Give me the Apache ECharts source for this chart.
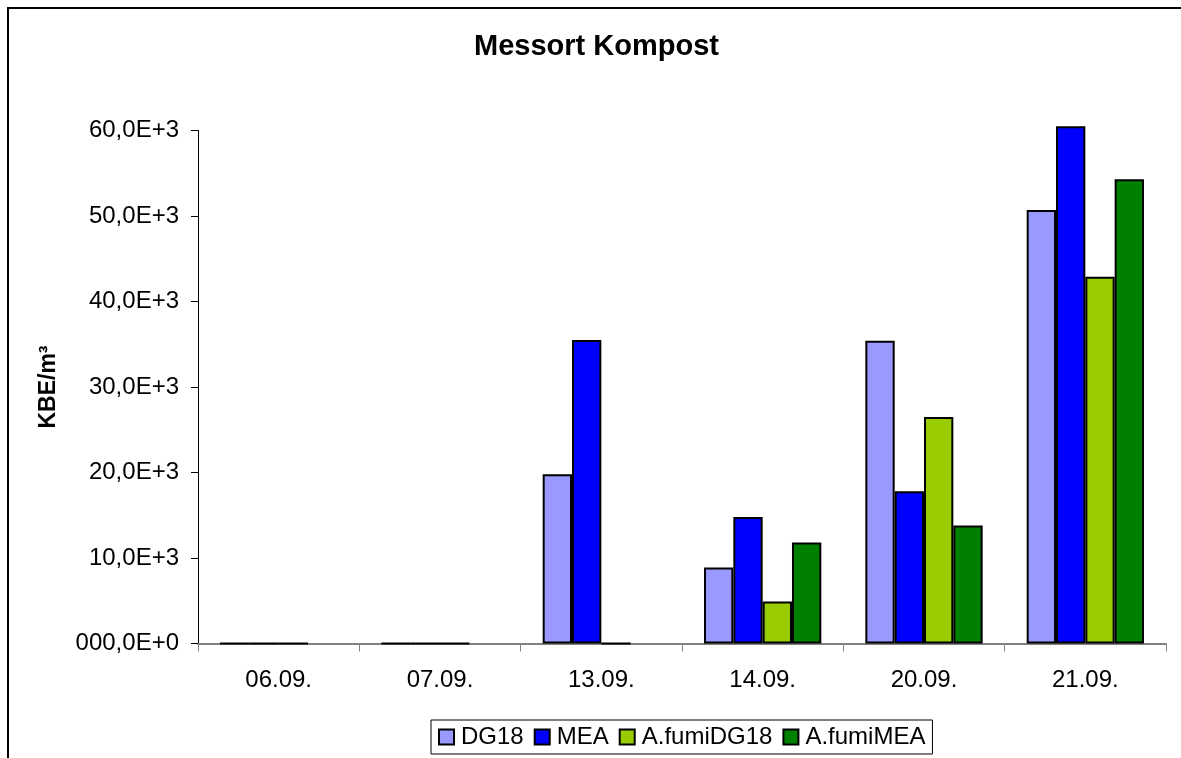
<!DOCTYPE html>
<html>
<head>
<meta charset="utf-8">
<script src="https://cdn.jsdelivr.net/npm/echarts@6/dist/echarts.min.js"></script>
<style>html,body{margin:0;padding:0;background:#fff;}#c{width:1181px;height:758px;}</style>
</head>
<body>
<div id="c"></div>
<script>
const categories = ['06.09.', '07.09.', '13.09.', '14.09.', '20.09.', '21.09.'];
const seriesNames = ['DG18', 'MEA', 'A.fumiDG18', 'A.fumiMEA'];
const dg18 = [0, 0, 19800, 8900, 35400, 50700];
const mea = [0, 0, 35500, 14800, 17800, 60500];
const afumiDG18 = [0, 0, 0, 4900, 26500, 42900];
const afumiMEA = [null, null, null, 11800, 13800, 54300];
const colors = ['#9999FF', '#0000FF', '#99CC00', '#008000'];
const yTicks = { min: 0, max: 60000, interval: 10000 };

const font = 'Liberation Sans, Arial, sans-serif';
const chart = echarts.init(document.getElementById('c'), null, { renderer: 'canvas' });
const seriesData = [dg18, mea, afumiDG18, afumiMEA];

chart.setOption({
  animation: false,
  backgroundColor: '#ffffff',
  title: {
    text: 'Messort Kompost',
    left: 474, top: 32, padding: 0,
    textStyle: { fontFamily: font, fontSize: 29, fontWeight: 'bold', color: '#000' }
  },
  graphic: [
    { type: 'line', silent: true, z: 100,
      shape: { x1: 8, y1: 8, x2: 1181, y2: 8 },
      style: { stroke: '#000', lineWidth: 2 } },
    { type: 'line', silent: true, z: 100,
      shape: { x1: 8, y1: 7, x2: 8, y2: 758 },
      style: { stroke: '#000', lineWidth: 2 } }
  ],
  legend: {
    data: seriesNames,
    left: 431, top: 720,
    padding: [5, 7, 5, 7],
    itemWidth: 15, itemHeight: 15, itemGap: 10,
    icon: 'rect',
    borderColor: '#000', borderWidth: 1,
    textStyle: { fontFamily: font, fontSize: 24, color: '#000', padding: [0, 0, 0, 2] }
  },
  grid: { left: 198, right: 15, top: 130.5, bottom: 114.5, containLabel: false },
  xAxis: {
    type: 'category', data: categories,
    axisLine: { lineStyle: { color: '#808080', width: 2 } },
    axisTick: { show: true, length: 8, lineStyle: { color: '#808080', width: 1 } },
    axisLabel: { fontFamily: font, fontSize: 24, color: '#000', margin: 25 },
    splitLine: { show: false }
  },
  yAxis: {
    type: 'value', min: yTicks.min, max: yTicks.max, interval: yTicks.interval,
    name: 'KBE/m³', nameLocation: 'middle', nameGap: 138, nameRotate: 90,
    nameTextStyle: { fontFamily: font, fontSize: 23, fontWeight: 'bold', color: '#000' },
    axisLine: { show: true, lineStyle: { color: '#000', width: 1 } },
    axisTick: { show: true, length: 7, lineStyle: { color: '#000' } },
    axisLabel: {
      fontFamily: font, fontSize: 24, color: '#000', margin: 19,
      formatter: v => v === 0 ? '000,0E+0' : (v / 1000) + ',0E+3'
    },
    splitLine: { show: false }
  },
  series: seriesNames.map((n, i) => ({
    name: n, type: 'bar', data: seriesData[i], clip: false,
    barGap: '0%', barCategoryGap: '27.3%',
    itemStyle: { color: colors[i], borderColor: '#000', borderWidth: 2 }
  }))
});
</script>
</body>
</html>
